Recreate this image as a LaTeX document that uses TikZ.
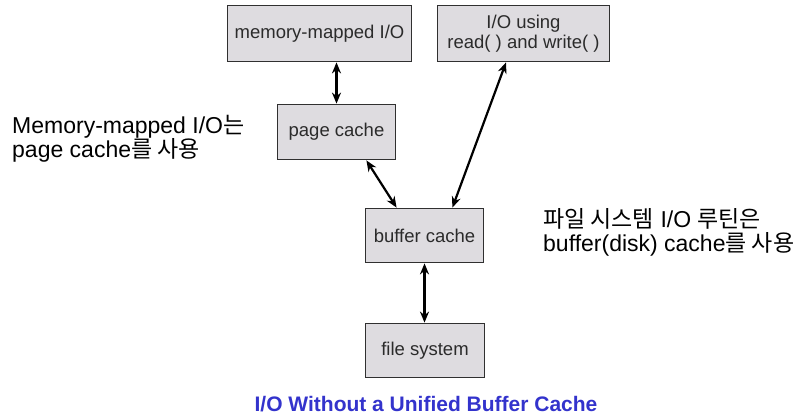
\documentclass[tikz,border=0pt]{standalone}
\usepackage{fontspec}
\setmainfont{Liberation Sans}
\newfontfamily\kr{Noto Sans CJK KR}
\usetikzlibrary{arrows.meta,calc}
\definecolor{boxfill}{HTML}{DEDCE0}
\definecolor{boxline}{HTML}{303030}
\definecolor{boxtext}{HTML}{2B2B2B}
\definecolor{capblue}{HTML}{3333CC}
\tikzset{
  iobox/.style={draw=boxline, line width=1.8pt, fill=boxfill, text=boxtext,
    font=\fontsize{18.5}{20}\selectfont, align=center, inner sep=0pt},
  conn/.style={line width=2.2pt, black, {Stealth[length=11pt,width=9pt]}-{Stealth[length=11pt,width=9pt]}},
  note/.style={font=\fontsize{23}{24.5}\selectfont, align=left, inner sep=0pt, anchor=north west},
}
\begin{document}
\begin{tikzpicture}[x=1pt,y=-1pt]
\useasboundingbox (0,0) rectangle (803,417);
\node[iobox, minimum width=184pt, minimum height=56pt] (mm) at (319.5,33.5) {memory-mapped I/O};
\node[iobox, minimum width=172pt, minimum height=56pt] (io) at (523.5,33.5) {I/O using\\read( ) and write( )};
\node[iobox, minimum width=118pt, minimum height=55pt] (pc) at (336.5,132) {page cache};
\node[iobox, minimum width=118pt, minimum height=54pt] (bc) at (424.5,235.5) {buffer cache};
\node[iobox, minimum width=119pt, minimum height=54pt] (fs) at (425,350.5) {file system};

\coordinate (pcb) at ($(pc.south east)+(-30,0)$);
\coordinate (bctl) at ($(bc.north west)+(32,0)$);
\coordinate (bctr) at ($(bc.north east)+(-32,0)$);
\coordinate (iob) at ($(io.south)+(-17.5,0)$);

\draw[conn] (mm.south -| pc.north) -- (pc.north);
\draw[conn] (pcb) -- (bctl);
\draw[conn] (iob) -- (bctr);
\draw[conn] (bc.south) -- (bc.south |- fs.north);

\node[note] (leftnote) at (12,115) {Memory-mapped I/O{\kr 는}\\page cache{\kr 를 사용}};
\node[note] (rightnote) at (543,208) {{\kr 파일 시스템} I/O {\kr 루틴은}\\buffer(disk) cache{\kr 를 사용}};

\node[font=\fontsize{21}{24}\bfseries, text=capblue, inner sep=0pt] (caption) at (426,404) {I/O Without a Unified Buffer Cache};
\end{tikzpicture}
\end{document}
